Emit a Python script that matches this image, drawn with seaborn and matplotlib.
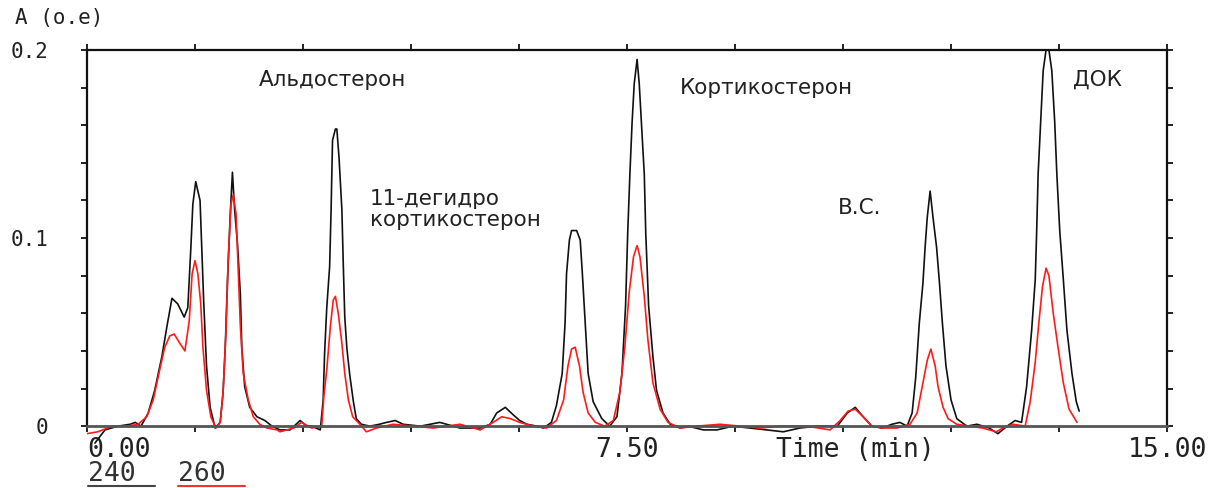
import numpy as np
import pandas as pd
import matplotlib
matplotlib.use("Agg")
import matplotlib.pyplot as plt
from matplotlib.lines import Line2D
from matplotlib.ticker import MultipleLocator, FixedLocator
import seaborn as sns

# ---------------- data ----------------
time_240 = [0.11, 0.25, 0.43, 0.60, 0.67, 0.75, 0.85, 0.94, 1.04, 1.11, 1.18, 1.26, 1.35, 1.40,
            1.44, 1.47, 1.51, 1.57, 1.59, 1.62, 1.66, 1.71, 1.78, 1.85, 1.89, 1.92, 1.95, 1.99,
            2.02, 2.05, 2.09, 2.13, 2.15, 2.19, 2.26, 2.36, 2.47, 2.57, 2.68, 2.82, 2.96, 3.05,
            3.12, 3.24, 3.28, 3.30, 3.33, 3.37, 3.39, 3.41, 3.45, 3.47, 3.50, 3.54, 3.56, 3.58,
            3.61, 3.65, 3.70, 3.74, 3.81, 3.93, 4.06, 4.16, 4.28, 4.39, 4.63, 4.90, 5.18, 5.46,
            5.60, 5.69, 5.81, 5.92, 6.01, 6.11, 6.25, 6.34, 6.45, 6.52, 6.60, 6.64, 6.66, 6.70,
            6.73, 6.80, 6.85, 6.88, 6.92, 6.96, 7.03, 7.15, 7.26, 7.36, 7.43, 7.48, 7.51, 7.54,
            7.57, 7.60, 7.64, 7.67, 7.70, 7.74, 7.76, 7.80, 7.86, 7.91, 8.00, 8.10, 8.24, 8.35,
            8.56, 8.75, 8.97, 9.21, 9.44, 9.67, 9.90, 10.14, 10.27, 10.42, 10.56, 10.67, 10.78,
            10.90, 11.04, 11.18, 11.29, 11.39, 11.46, 11.51, 11.56, 11.61, 11.64, 11.67, 11.71,
            11.75, 11.80, 11.84, 11.88, 11.93, 12.00, 12.08, 12.22, 12.36, 12.53, 12.65, 12.78,
            12.89, 12.98, 13.05, 13.12, 13.17, 13.19, 13.21, 13.25, 13.28, 13.32, 13.36, 13.40,
            13.44, 13.47, 13.51, 13.56, 13.61, 13.68, 13.74, 13.78]
abs_240 = [-0.009, -0.002, 0.000, 0.001, 0.002, 0.000, 0.007, 0.019, 0.037, 0.053, 0.068, 0.065,
           0.058, 0.063, 0.093, 0.118, 0.130, 0.120, 0.099, 0.067, 0.032, 0.010, -0.001, 0.002,
           0.018, 0.042, 0.076, 0.113, 0.135, 0.115, 0.097, 0.070, 0.042, 0.021, 0.010, 0.005,
           0.003, 0.000, -0.002, -0.002, 0.003, 0.000, 0.000, -0.002, 0.014, 0.039, 0.063, 0.085,
           0.115, 0.152, 0.158, 0.158, 0.143, 0.115, 0.085, 0.058, 0.041, 0.027, 0.013, 0.004,
           0.001, 0.000, 0.001, 0.002, 0.003, 0.001, 0.000, 0.002, -0.001, -0.001, 0.001, 0.007,
           0.010, 0.006, 0.003, 0.001, 0.000, -0.001, 0.002, 0.011, 0.028, 0.055, 0.081, 0.099,
           0.104, 0.104, 0.099, 0.081, 0.055, 0.028, 0.013, 0.004, 0.000, 0.005, 0.028, 0.064,
           0.103, 0.134, 0.161, 0.182, 0.195, 0.182, 0.161, 0.134, 0.103, 0.064, 0.037, 0.019,
           0.007, 0.001, -0.001, 0.000, -0.002, -0.002, 0.000, -0.001, -0.002, -0.003, -0.001,
           0.000, 0.000, 0.000, 0.007, 0.010, 0.005, 0.000, -0.001, 0.001, 0.002, 0.000, 0.007,
           0.026, 0.055, 0.076, 0.095, 0.111, 0.125, 0.111, 0.095, 0.076, 0.055, 0.032, 0.014,
           0.004, 0.000, 0.001, -0.001, -0.004, 0.000, 0.003, 0.002, 0.021, 0.051, 0.078, 0.104,
           0.134, 0.166, 0.189, 0.200, 0.200, 0.189, 0.162, 0.134, 0.104, 0.078, 0.051, 0.028,
           0.013, 0.008]

time_260 = [0.00, 0.15, 0.35, 0.55, 0.71, 0.83, 0.92, 1.01, 1.08, 1.15, 1.21, 1.29, 1.36, 1.42,
            1.46, 1.50, 1.54, 1.58, 1.61, 1.66, 1.72, 1.79, 1.85, 1.89, 1.93, 1.96, 2.00, 2.03,
            2.07, 2.10, 2.13, 2.17, 2.24, 2.31, 2.40, 2.50, 2.64, 2.68, 2.87, 2.98, 3.12, 3.26,
            3.29, 3.33, 3.38, 3.42, 3.45, 3.49, 3.54, 3.58, 3.63, 3.69, 3.79, 3.88, 4.02, 4.25,
            4.53, 4.81, 5.18, 5.46, 5.64, 5.76, 5.88, 6.01, 6.20, 6.38, 6.52, 6.62, 6.68, 6.73,
            6.78, 6.84, 6.89, 6.96, 7.06, 7.19, 7.31, 7.40, 7.47, 7.53, 7.59, 7.64, 7.68, 7.74,
            7.79, 7.86, 7.96, 8.07, 8.24, 8.47, 8.79, 9.07, 9.35, 9.63, 10.00, 10.32, 10.46,
            10.57, 10.67, 10.78, 10.90, 11.06, 11.25, 11.43, 11.53, 11.60, 11.67, 11.72, 11.78,
            11.82, 11.89, 11.96, 12.08, 12.26, 12.44, 12.63, 12.72, 12.86, 13.03, 13.10, 13.17,
            13.22, 13.27, 13.32, 13.36, 13.42, 13.49, 13.56, 13.64, 13.75]
abs_260 = [-0.004, -0.003, 0.000, 0.000, 0.001, 0.005, 0.014, 0.030, 0.042, 0.048, 0.049, 0.044,
           0.040, 0.056, 0.081, 0.088, 0.081, 0.065, 0.042, 0.019, 0.005, -0.001, 0.002, 0.018,
           0.050, 0.088, 0.118, 0.123, 0.113, 0.083, 0.053, 0.028, 0.014, 0.005, 0.001, -0.001,
           -0.002, -0.003, -0.001, 0.002, -0.001, 0.000, 0.016, 0.030, 0.053, 0.067, 0.069, 0.060,
           0.044, 0.028, 0.014, 0.005, 0.001, -0.003, -0.001, 0.001, 0.000, -0.001, 0.001, -0.002,
           0.002, 0.005, 0.004, 0.002, 0.000, -0.001, 0.003, 0.014, 0.032, 0.041, 0.042, 0.032,
           0.018, 0.007, 0.002, 0.000, 0.003, 0.018, 0.042, 0.071, 0.090, 0.096, 0.090, 0.069,
           0.046, 0.023, 0.009, 0.002, -0.001, 0.000, 0.001, 0.000, -0.001, 0.000, 0.000, -0.002,
           0.003, 0.008, 0.009, 0.005, 0.000, -0.001, -0.001, 0.001, 0.007, 0.021, 0.035, 0.041,
           0.032, 0.021, 0.010, 0.004, 0.001, 0.000, -0.001, -0.003, -0.001, 0.001, 0.000, 0.013,
           0.034, 0.055, 0.074, 0.084, 0.080, 0.060, 0.041, 0.023, 0.009, 0.002]

x_ticks = [0, 7.5, 15]
x_tick_labels = ["0.00", "7.50", "15.00"]
y_ticks = [0, 0.1, 0.2]
y_tick_labels = ["0", "0.1", "0.2"]

peak_names = ["Альдостерон", "11-дегидро\nкортикостерон", "Кортикостерон", "В.С.", "ДОК"]
name_x = [2.38, 3.93, 8.24, 10.43, 13.69]
name_y = [0.184, 0.115, 0.180, 0.116, 0.184]

df_240 = pd.DataFrame({"time": time_240, "A": abs_240})
df_260 = pd.DataFrame({"time": time_260, "A": abs_260})

# ---------------- plot ----------------
sns.set_style("ticks")
plt.rcParams["font.family"] = ["DejaVu Sans"]

mono = "DejaVu Sans Mono"
ink = "#222222"

fig = plt.figure(figsize=(12.22, 4.88), dpi=100)
ax = fig.add_axes([0.0712, 0.0805, 0.8838, 0.817])

sns.lineplot(data=df_240, x="time", y="A", ax=ax, color="#111111", linewidth=1.2,
             sort=False, estimator=None)
sns.lineplot(data=df_260, x="time", y="A", ax=ax, color="#ff1a1a", linewidth=1.2,
             sort=False, estimator=None)

ax.set_xlim(0, 15)
ax.set_ylim(-0.012, 0.2)
ax.set_xlabel("")
ax.set_ylabel("")

ax.spines["bottom"].set_position(("data", 0))
ax.spines["bottom"].set_color("#555555")
ax.spines["bottom"].set_linewidth(2)
for side in ["left", "right"]:
    ax.spines[side].set_bounds(0, 0.2)
    ax.spines[side].set_linewidth(1.6)
    ax.spines[side].set_color("#111111")
ax.spines["top"].set_linewidth(1.6)
ax.spines["top"].set_color("#111111")

ax.xaxis.set_major_locator(FixedLocator(x_ticks))
ax.set_xticklabels(x_tick_labels, fontfamily=mono, fontsize=19, color=ink)
ax.xaxis.set_minor_locator(MultipleLocator(1.5))
ax.yaxis.set_major_locator(FixedLocator(y_ticks))
ax.set_yticklabels(y_tick_labels, fontfamily=mono, fontsize=15, color=ink)
ax.yaxis.set_minor_locator(MultipleLocator(0.02))

ax.tick_params(axis="both", which="both", direction="out", length=4, width=1.3,
               top=True, right=True, color="#111111")
ax.tick_params(axis="x", which="major", pad=4)
ax.tick_params(axis="y", which="major", pad=24)
ax.get_xticklabels()[0].set_horizontalalignment("left")

for name, nx, ny in zip(peak_names, name_x, name_y):
    ax.text(nx, ny, name, ha="left", va="center", fontsize=15.5, color=ink,
            linespacing=1.05)

ax.text(10.67, -0.006, "Time (min)", ha="center", va="top", fontfamily=mono,
        fontsize=19, color=ink, clip_on=False)

fig.text(15 / 1222, 1 - 18 / 488, "A (o.e)", ha="left", va="center", fontfamily=mono,
         fontsize=15, color=ink)

# detector wavelength legend with coloured underlines
fig.text(88 / 1222, 1 - 474 / 488, "240", ha="left", va="center", fontfamily=mono,
         fontsize=19, color="#333333")
fig.text(178 / 1222, 1 - 474 / 488, "260", ha="left", va="center", fontfamily=mono,
         fontsize=19, color="#333333")
fig.add_artist(Line2D([88 / 1222, 155 / 1222], [1 - 486 / 488] * 2,
                      transform=fig.transFigure, color="#444444", lw=1.5))
fig.add_artist(Line2D([178 / 1222, 245 / 1222], [1 - 486 / 488] * 2,
                      transform=fig.transFigure, color="#ff3030", lw=1.5))

fig.savefig("out.png", dpi=100)
